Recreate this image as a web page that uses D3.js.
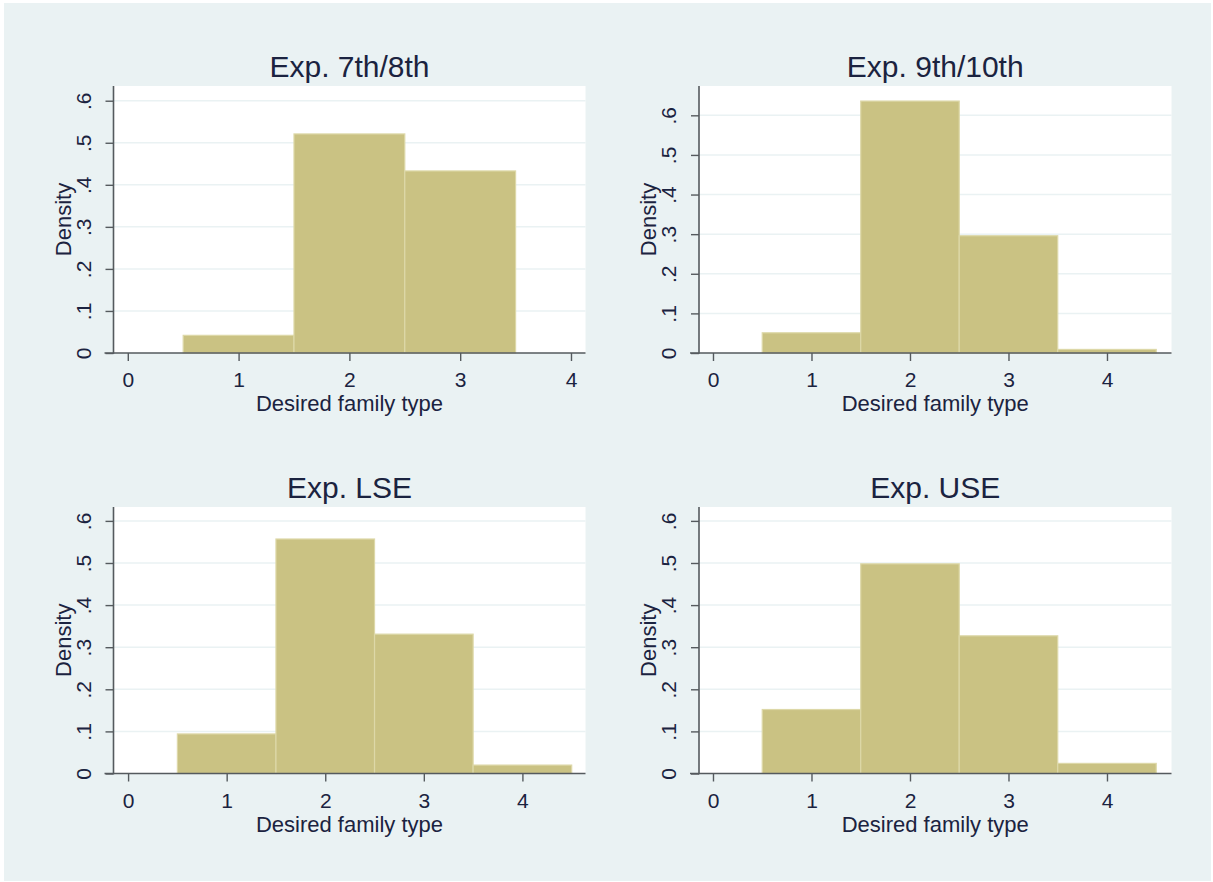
<!DOCTYPE html>
<html>
<head>
<meta charset="utf-8">
<script src="https://cdn.jsdelivr.net/npm/d3@7"></script>
<style>
  html, body { margin: 0; padding: 0; background: #ffffff; }
  svg { display: block; }
  text { font-family: "Liberation Sans", Arial, sans-serif; }
</style>
</head>
<body>
<svg id="chart" width="1213" height="882"></svg>
<script>
// ---- data ----
const panelTitles = ["Exp. 7th/8th", "Exp. 9th/10th", "Exp. LSE", "Exp. USE"];
const binCenters = [0, 1, 2, 3, 4];
const density7th8th  = [0, 0.042, 0.521, 0.433, 0];
const density9th10th = [0, 0.051, 0.636, 0.296, 0.009];
const densityLSE     = [0, 0.094, 0.557, 0.331, 0.020];
const densityUSE     = [0, 0.152, 0.498, 0.327, 0.024];
const xTickValues = [0, 1, 2, 3, 4];
const yTickValues = [0, 0.1, 0.2, 0.3, 0.4, 0.5, 0.6];
const yTickLabels = ["0", ".1", ".2", ".3", ".4", ".5", ".6"];
const xAxisTitle = "Desired family type";
const yAxisTitle = "Density";

const seriesList = [density7th8th, density9th10th, densityLSE, densityUSE];

// ---- layout ----
const layouts = [
  { left: 113.5, right: 585.5, top: 86,  bottom: 353,   xDom: [-0.129, 4.131], yDom: [0, 0.635] },
  { left: 699,   right: 1171.5, top: 86, bottom: 353,   xDom: [-0.142, 4.655], yDom: [0, 0.674] },
  { left: 113.5, right: 585.5, top: 507, bottom: 773.5, xDom: [-0.148, 4.64],  yDom: [0, 0.633] },
  { left: 699,   right: 1171.5, top: 507, bottom: 773.5, xDom: [-0.142, 4.655], yDom: [0, 0.633] }
];

const svg = d3.select("#chart");
const BG = "#eaf2f3", TEXT = "#1b2340", AXIS = "#555a5e";
const BAR_FILL = "#cac283", BAR_STROKE = "#ddd8a8";

svg.append("rect").attr("x", 0).attr("y", 0).attr("width", 1213).attr("height", 882).attr("fill", "#ffffff");
svg.append("rect").attr("x", 4).attr("y", 3).attr("width", 1207).attr("height", 878).attr("fill", BG);

layouts.forEach((L, i) => {
  const values = seriesList[i];
  const x = d3.scaleLinear().domain(L.xDom).range([L.left, L.right]);
  const y = d3.scaleLinear().domain(L.yDom).range([L.bottom, L.top]);
  const g = svg.append("g");

  // plot region
  g.append("rect").attr("x", L.left).attr("y", L.top)
    .attr("width", L.right - L.left).attr("height", L.bottom - L.top).attr("fill", "#ffffff");

  // gridlines
  g.append("g").selectAll("line").data(yTickValues.filter(v => v > 0 && v <= L.yDom[1])).join("line")
    .attr("x1", L.left).attr("x2", L.right)
    .attr("y1", d => y(d)).attr("y2", d => y(d))
    .attr("stroke", BG).attr("stroke-width", 1.5);

  // bars
  const bars = binCenters.map((c, k) => ({ c, v: values[k] })).filter(d => d.v > 0);
  g.append("g").selectAll("rect").data(bars).join("rect")
    .attr("x", d => x(d.c - 0.5))
    .attr("width", d => x(d.c + 0.5) - x(d.c - 0.5))
    .attr("y", d => y(d.v))
    .attr("height", d => y(0) - y(d.v))
    .attr("fill", BAR_FILL).attr("stroke", BAR_STROKE).attr("stroke-width", 1.2);

  // x axis
  const xAxis = d3.axisBottom(x).tickValues(xTickValues).tickSize(8).tickPadding(6)
    .tickFormat(d3.format("d"));
  const gx = g.append("g").attr("transform", `translate(0,${L.bottom})`).call(xAxis);
  gx.select(".domain").remove();
  gx.append("line").attr("x1", L.left - 9).attr("x2", L.right).attr("y1", 0).attr("y2", 0)
    .attr("stroke", AXIS).attr("stroke-width", 1.6);
  gx.selectAll(".tick line").attr("stroke", AXIS).attr("stroke-width", 1.4);
  gx.selectAll(".tick text").attr("fill", TEXT).attr("font-size", 21)
    .attr("font-family", "'Liberation Sans', Arial, sans-serif")
    .attr("dy", null).attr("y", 34);

  // y axis
  const yAxis = d3.axisLeft(y).tickValues(yTickValues).tickSize(8)
    .tickFormat((d, k) => yTickLabels[k]);
  const gy = g.append("g").attr("transform", `translate(${L.left},0)`).call(yAxis);
  gy.select(".domain").remove();
  gy.append("line").attr("x1", 0).attr("x2", 0).attr("y1", L.top).attr("y2", L.bottom + 0.8)
    .attr("stroke", AXIS).attr("stroke-width", 1.6);
  gy.selectAll(".tick line").attr("stroke", AXIS).attr("stroke-width", 1.4);
  gy.selectAll(".tick text")
    .attr("fill", TEXT).attr("font-size", 21)
    .attr("font-family", "'Liberation Sans', Arial, sans-serif")
    .attr("x", null).attr("dy", null).attr("text-anchor", "middle")
    .attr("transform", "translate(-23,0) rotate(-90)");

  // axis titles
  g.append("text").attr("x", (L.left + L.right) / 2).attr("y", L.bottom + 58)
    .attr("text-anchor", "middle").attr("fill", TEXT).attr("font-size", 22).text(xAxisTitle);
  g.append("text")
    .attr("transform", `translate(${L.left - 43},${(L.top + L.bottom) / 2}) rotate(-90)`)
    .attr("text-anchor", "middle").attr("fill", TEXT).attr("font-size", 22).text(yAxisTitle);

  // panel title
  g.append("text").attr("x", (L.left + L.right) / 2).attr("y", L.top - 9)
    .attr("text-anchor", "middle").attr("fill", TEXT).attr("font-size", 30).text(panelTitles[i]);
});
</script>
</body>
</html>
